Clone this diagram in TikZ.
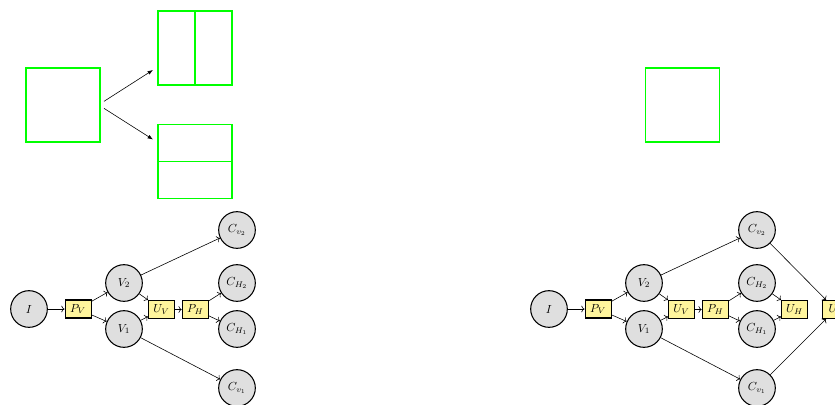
\documentclass[tikz,border=0pt]{standalone}
\usepackage{amsmath}
\usepackage{xcolor}
\usepackage{tikz}
\usetikzlibrary{arrows.meta, positioning, calc}

\definecolor{boxyellow}{HTML}{FFF59D}
\definecolor{cellgreen}{HTML}{00FF00}

\begin{document}
\begin{tikzpicture}[
        cell/.style={rectangle, draw=cellgreen, line width=1.1pt, minimum size=2.22cm, inner sep=0pt, outer sep=0pt},
        cut/.style={draw=cellgreen, line width=1.1pt},
        state/.style={circle, draw, line width=0.9pt, fill=gray!25, minimum size=1.1cm, inner sep=0pt},
        op/.style={rectangle, draw, line width=0.9pt, fill=boxyellow, minimum width=0.78cm, minimum height=0.54cm, inner sep=0pt},
        split/.style={-{Latex[length=1.6mm, width=1.2mm]}, line width=0.5pt},
        flow/.style={->, line width=0.5pt}
    ]
    \useasboundingbox (0,0) rectangle (25.05,-12.15);
    \clip (0,0) rectangle (25.05,-12.15);

    % Cells
    \node[cell] (src) at (1.89,-3.15) {};
    \node[cell] (vcut) at (5.85,-1.44) {};
    \node[cell] (hcut) at (5.85,-4.845) {};
    \node[cell] (single) at (20.475,-3.15) {};
    \draw[cut] (vcut.north) -- (vcut.south);
    \draw[cut] (hcut.west) -- (hcut.east);

    \draw[split] ([xshift=0.12cm, yshift=0.11cm]src.east) -- ([xshift=-0.15cm, yshift=0.45cm]vcut.south west);
    \draw[split] ([xshift=0.12cm, yshift=-0.1cm]src.east) -- ([xshift=-0.15cm, yshift=-0.45cm]hcut.north west);

    % Nodes (left graph)
    \node[state] (i) at (0.87,-9.27) {$I$};
    \node[op, right=0.5cm of i] (pv) {$P_V$};
    \node[state] (v2) at (3.72,-8.49) {$V_2$};
    \node[state] (v1) at (3.72,-9.87) {$V_1$};
    \node[op] (uv) at (4.845,-9.285) {$U_V$};
    \node[op, right=0.2cm of uv] (ph) {$P_H$};
    \node[state] (cv2) at (7.11,-6.9) {$C_{v_2}$};
    \node[state] (ch2) at (7.11,-8.49) {$C_{H_2}$};
    \node[state] (ch1) at (7.11,-9.87) {$C_{H_1}$};
    \node[state] (cv1) at (7.11,-11.64) {$C_{v_1}$};

    % Edges (left graph)
    \draw[flow] (i) -- (pv);
    \draw[flow] (pv) -- (v2);
    \draw[flow] (pv) -- (v1);
    \draw[flow] (v2) -- (uv);
    \draw[flow] (v1) -- (uv);
    \draw[flow] (uv) -- (ph);
    \draw[flow] (ph) -- (ch2);
    \draw[flow] (ph) -- (ch1);
    \draw[flow] (v2) -- (cv2);
    \draw[flow] (v1) -- (cv1);

    % Nodes (right graph)
    \begin{scope}[xshift=15.6cm]
    \node[state] (ib) at (0.87,-9.27) {$I$};
    \node[op, right=0.5cm of ib] (pvb) {$P_V$};
    \node[state] (v2b) at (3.72,-8.49) {$V_2$};
    \node[state] (v1b) at (3.72,-9.87) {$V_1$};
    \node[op] (uvb) at (4.845,-9.285) {$U_V$};
    \node[op, right=0.2cm of uvb] (phb) {$P_H$};
    \node[state] (cv2b) at (7.11,-6.9) {$C_{v_2}$};
    \node[state] (ch2b) at (7.11,-8.49) {$C_{H_2}$};
    \node[state] (ch1b) at (7.11,-9.87) {$C_{H_1}$};
    \node[state] (cv1b) at (7.11,-11.64) {$C_{v_1}$};
    \node[op] (uhb) at (8.235,-9.285) {$U_H$};
    \node[op] (uvtb) at (9.465,-9.285) {$U_v$};
    \end{scope}

    % Edges (right graph)
    \draw[flow] (ib) -- (pvb);
    \draw[flow] (pvb) -- (v2b);
    \draw[flow] (pvb) -- (v1b);
    \draw[flow] (v2b) -- (uvb);
    \draw[flow] (v1b) -- (uvb);
    \draw[flow] (uvb) -- (phb);
    \draw[flow] (phb) -- (ch2b);
    \draw[flow] (phb) -- (ch1b);
    \draw[flow] (v2b) -- (cv2b);
    \draw[flow] (v1b) -- (cv1b);
    \draw[flow] (ch2b) -- (uhb);
    \draw[flow] (ch1b) -- (uhb);
    \draw[flow] (cv2b) -- (uvtb);
    \draw[flow] (cv1b) -- (uvtb);

\end{tikzpicture}
\end{document}
